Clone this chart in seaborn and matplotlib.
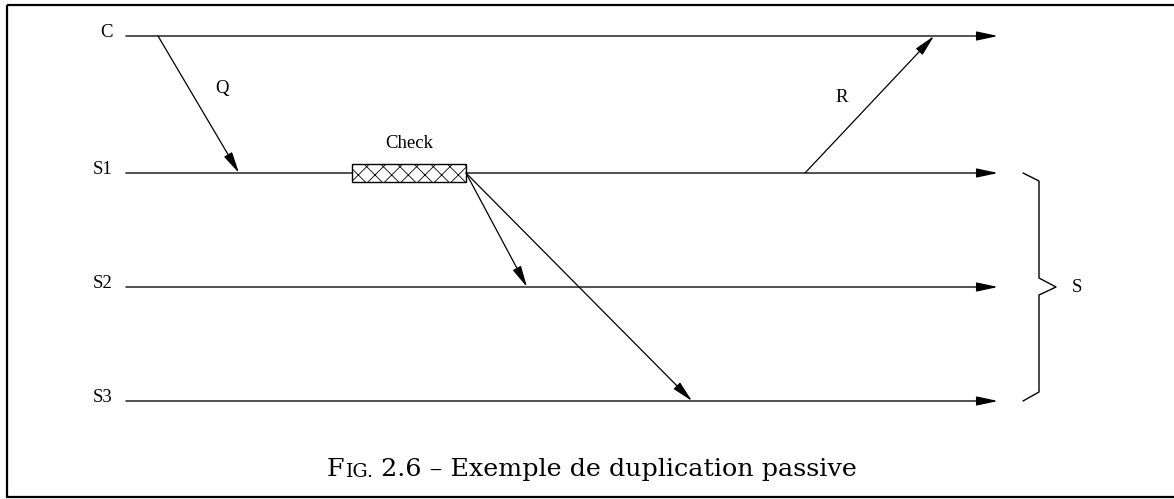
import numpy as np
import pandas as pd
import seaborn as sns
import matplotlib.pyplot as plt
from matplotlib.patches import Rectangle

## diagram data (x = time, y = process line, in figure pixels) ----
procs = ["C", "S1", "S2", "S3"]
proc_y = [36, 173, 287, 401]
t_start = 126
t_end = 998

# messages: sender, receiver, send time, receive time, label
msg_from = ["C", "S1", "S1", "S1"]
msg_to = ["S1", "S2", "S3", "C"]
msg_send = [158, 466, 466, 805]
msg_recv = [239, 527, 692, 934]
msg_label = ["Q", "", "", "R"]
msg_label_xy = [(222, 88), None, None, (842, 97)]

# processing block on S1
check_t0, check_t1 = 352, 466
check_label = "Check"

group_procs = ["S1", "S2", "S3"]
group_label = "S"
caption_sc = ("F", "IG.")
caption_rest = " 2.6 \u2013 Exemple de duplication passive"

sns.set_theme(style="white")
plt.rcParams['font.family'] = ['Liberation Serif', 'DejaVu Serif']
plt.rcParams['text.color'] = 'black'
plt.rcParams['hatch.linewidth'] = 0.6
plt.rcParams['hatch.color'] = '#444444'

fig = plt.figure(figsize=(11.74, 4.99), dpi=100)
ax = fig.add_axes([0, 0, 1, 1])
ax.set_xlim(0, 1174)
ax.set_ylim(499, 0)
ax.axis('off')

ypos = dict(zip(procs, proc_y))
lab_size = 13.5

## timelines
lines = pd.DataFrame({
    "x": [t_start, t_end - 16] * len(procs),
    "y": np.repeat(proc_y, 2),
    "proc": np.repeat(procs, 2),
})
sns.lineplot(data=lines, x="x", y="y", units="proc", estimator=None,
             color="#333333", lw=1.2, ax=ax, legend=False, sort=False)
for p in procs:
    ax.annotate("", xy=(t_end, ypos[p]), xytext=(t_end - 20, ypos[p]),
                arrowprops=dict(arrowstyle="-|>,head_length=1.3,head_width=0.28",
                                mutation_scale=10, color="black", lw=1,
                                shrinkA=0, shrinkB=0))
    ax.text(t_start - 13, ypos[p] - 4, p, ha="right", va="center",
            fontsize=lab_size)

## check block
ax.add_patch(Rectangle((check_t0, ypos["S1"] - 9), check_t1 - check_t0, 18,
                       facecolor="white", edgecolor="black", lw=1, hatch="xx",
                       zorder=3))
ax.text((check_t0 + check_t1) / 2, ypos["S1"] - 30, check_label, ha="center",
        va="center", fontsize=lab_size)

## messages
for f, t, ts, tr, lab, lxy in zip(msg_from, msg_to, msg_send, msg_recv,
                                  msg_label, msg_label_xy):
    ax.annotate("", xy=(tr, ypos[t]), xytext=(ts, ypos[f]),
                arrowprops=dict(arrowstyle="-|>,head_length=1.3,head_width=0.28",
                                mutation_scale=10, color="black", lw=0.9,
                                shrinkA=0, shrinkB=0))
    if lab:
        ax.text(lxy[0], lxy[1], lab, ha="center", va="center", fontsize=lab_size)

## brace for the replica group
y0 = ypos[group_procs[0]]
y1 = ypos[group_procs[-1]]
ym = (y0 + y1) / 2
bx = 1039
brace_x = [1023, bx, bx, 1056, bx, bx, 1023]
brace_y = [y0, y0 + 8, ym - 9, ym, ym + 8, y1 - 9, y1]
ax.plot(brace_x, brace_y, color="black", lw=1)
ax.text(1077, ym + 1, group_label, ha="center", va="center", fontsize=lab_size)

## frame (right edge falls outside the picture)
ax.add_patch(Rectangle((7, 4.5), 1200, 492.5, fill=False, edgecolor="black",
                       lw=1.6, clip_on=False))

## caption with small caps "Fig."
cap = ax.text(327, 476, caption_sc[0], fontsize=18.3, ha="left", va="baseline",
              family="DejaVu Serif")
cap2 = ax.annotate(caption_sc[1], xy=(1, 0), xycoords=cap, fontsize=13.7,
                   ha="left", va="bottom", family="DejaVu Serif")
ax.annotate(caption_rest, xy=(1, 0), xycoords=cap2, fontsize=18.3,
            ha="left", va="bottom", family="DejaVu Serif")

fig.savefig("out.png", dpi=100)
